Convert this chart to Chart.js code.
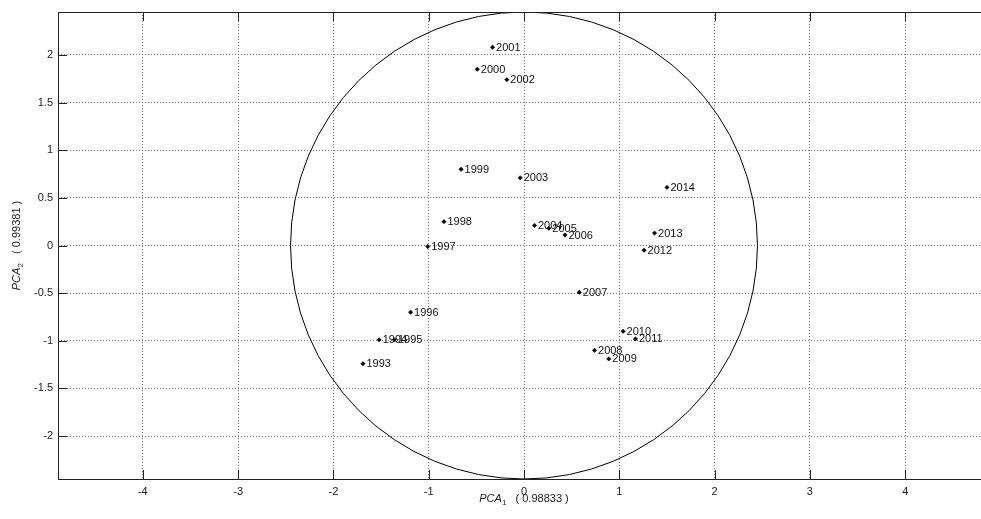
<!DOCTYPE html>
<html>
<head>
<meta charset="utf-8">
<script src="https://cdn.jsdelivr.net/npm/chart.js@4.4.0/dist/chart.umd.min.js"></script>
<style>
  html, body { margin: 0; padding: 0; background: #fff; overflow: hidden; }
  #wrap { position: relative; width: 995px; height: 519px; }
</style>
</head>
<body>
<div id="wrap"><canvas id="pcaChart"></canvas></div>
<script>
// years and their scores on the first two principal components
const years = ['1993', '1994', '1995', '1996', '1997', '1998', '1999', '2000', '2001',
               '2002', '2003', '2004', '2005', '2006', '2007', '2008', '2009', '2010',
               '2011', '2012', '2013', '2014'];
const pca1 = [-1.69, -1.52, -1.36, -1.19, -1.01, -0.84, -0.66, -0.49, -0.33,
              -0.18, -0.04, 0.11, 0.26, 0.43, 0.58, 0.74, 0.89, 1.04,
              1.17, 1.26, 1.37, 1.50];
const pca2 = [-1.24, -0.99, -0.99, -0.70, -0.01, 0.25, 0.80, 1.85, 2.08,
              1.74, 0.71, 0.21, 0.18, 0.11, -0.49, -1.10, -1.19, -0.90,
              -0.98, -0.05, 0.13, 0.61];

const xTicks = [-4, -3, -2, -1, 0, 1, 2, 3, 4];
const yTicks = [-2, -1.5, -1, -0.5, 0, 0.5, 1, 1.5, 2];
const circleRadius = 2.45;

const FONT = 'Arial, "Liberation Sans", sans-serif';

// unit circle (correlation circle) drawn through the scales
const circlePlugin = {
  id: 'circle',
  beforeDatasetsDraw(chart) {
    const {ctx, scales: {x, y}, chartArea} = chart;
    const cx = x.getPixelForValue(0), cy = y.getPixelForValue(0);
    const rx = x.getPixelForValue(circleRadius) - cx;
    const ry = cy - y.getPixelForValue(circleRadius);
    ctx.save();
    ctx.beginPath();
    ctx.rect(chartArea.left, chartArea.top, chartArea.width, chartArea.height);
    ctx.clip();
    ctx.beginPath();
    ctx.ellipse(cx, cy, rx, ry, 0, 0, Math.PI * 2);
    ctx.strokeStyle = '#000';
    ctx.lineWidth = 1;
    ctx.stroke();
    ctx.restore();
  }
};

// year labels next to each point
const labelPlugin = {
  id: 'pointLabels',
  afterDatasetsDraw(chart) {
    const ctx = chart.ctx;
    const meta = chart.getDatasetMeta(0);
    ctx.save();
    ctx.font = '11px ' + FONT;
    ctx.fillStyle = '#111';
    ctx.textAlign = 'left';
    ctx.textBaseline = 'middle';
    meta.data.forEach((pt, i) => {
      ctx.fillText(years[i], pt.x + 3.5, pt.y + 0.5);
    });
    ctx.restore();
  }
};

// matlab style frame, inward ticks and axis titles with subscripts
const framePlugin = {
  id: 'frame',
  afterDraw(chart) {
    const {ctx, chartArea: a, scales: {x, y}} = chart;
    const L = 9;
    ctx.save();
    ctx.strokeStyle = '#222';
    ctx.lineWidth = 1;
    ctx.strokeRect(Math.round(a.left) + 0.5, Math.round(a.top) + 0.5,
                   Math.round(a.width), Math.round(a.height));
    ctx.beginPath();
    xTicks.forEach(v => {
      const px = Math.round(x.getPixelForValue(v)) + 0.5;
      ctx.moveTo(px, a.bottom); ctx.lineTo(px, a.bottom - L);
      ctx.moveTo(px, a.top); ctx.lineTo(px, a.top + L);
    });
    yTicks.forEach(v => {
      const py = Math.round(y.getPixelForValue(v)) + 0.5;
      ctx.moveTo(a.left, py); ctx.lineTo(a.left + L, py);
      ctx.moveTo(a.right, py); ctx.lineTo(a.right - L, py);
    });
    ctx.stroke();

    // axis titles
    const drawTitle = (main, sub, rest) => {
      ctx.font = 'italic 11px ' + FONT;
      const w1 = ctx.measureText(main).width;
      ctx.font = '8px ' + FONT;
      const w2 = ctx.measureText(sub).width;
      ctx.font = '11px ' + FONT;
      const w3 = ctx.measureText(rest).width;
      const total = w1 + w2 + w3;
      let cur = -total / 2;
      ctx.textBaseline = 'alphabetic';
      ctx.textAlign = 'left';
      ctx.fillStyle = '#222';
      ctx.font = 'italic 11px ' + FONT;
      ctx.fillText(main, cur, 0); cur += w1;
      ctx.font = '8px ' + FONT;
      ctx.fillText(sub, cur, 3); cur += w2;
      ctx.font = '11px ' + FONT;
      ctx.fillText(rest, cur, 0);
    };
    ctx.save();
    ctx.translate((a.left + a.right) / 2, 502);
    drawTitle('PCA', '1', '   ( 0.98833 )');
    ctx.restore();
    ctx.save();
    ctx.translate(20, (a.top + a.bottom) / 2);
    ctx.rotate(-Math.PI / 2);
    drawTitle('PCA', '2', '   ( 0.99381 )');
    ctx.restore();
    ctx.restore();
  }
};

new Chart(document.getElementById('pcaChart').getContext('2d'), {
  type: 'scatter',
  data: {
    labels: years,
    datasets: [{
      data: pca1.map((v, i) => ({x: v, y: pca2[i]})),
      pointStyle: 'rectRot',
      pointRadius: 2.2,
      pointBackgroundColor: '#000',
      pointBorderColor: '#000',
      pointBorderWidth: 0.5
    }]
  },
  options: {
    responsive: true,
    maintainAspectRatio: false,
    animation: false,
    layout: { padding: { left: 0, top: 12, right: 5, bottom: 0 } },
    plugins: {
      legend: { display: false },
      tooltip: { enabled: false }
    },
    scales: {
      x: {
        type: 'linear',
        min: -4.89,
        max: 4.89,
        afterBuildTicks: s => { s.ticks = xTicks.map(v => ({value: v})); },
        afterFit: s => { s.height = 40; },
        grid: { color: '#777', drawTicks: false, lineWidth: 1 },
        border: { display: false, dash: [1, 2] },
        ticks: {
          padding: 6,
          color: '#222',
          font: { family: FONT, size: 11 },
          callback: v => String(v)
        }
      },
      y: {
        type: 'linear',
        min: -2.45,
        max: 2.45,
        afterBuildTicks: s => { s.ticks = yTicks.map(v => ({value: v})); },
        afterFit: s => { s.width = 58; },
        grid: { color: '#777', drawTicks: false, lineWidth: 1 },
        border: { display: false, dash: [1, 2] },
        ticks: {
          padding: 5,
          color: '#222',
          font: { family: FONT, size: 11 },
          callback: v => String(v)
        }
      }
    }
  },
  plugins: [circlePlugin, labelPlugin, framePlugin]
});
</script>
</body>
</html>
